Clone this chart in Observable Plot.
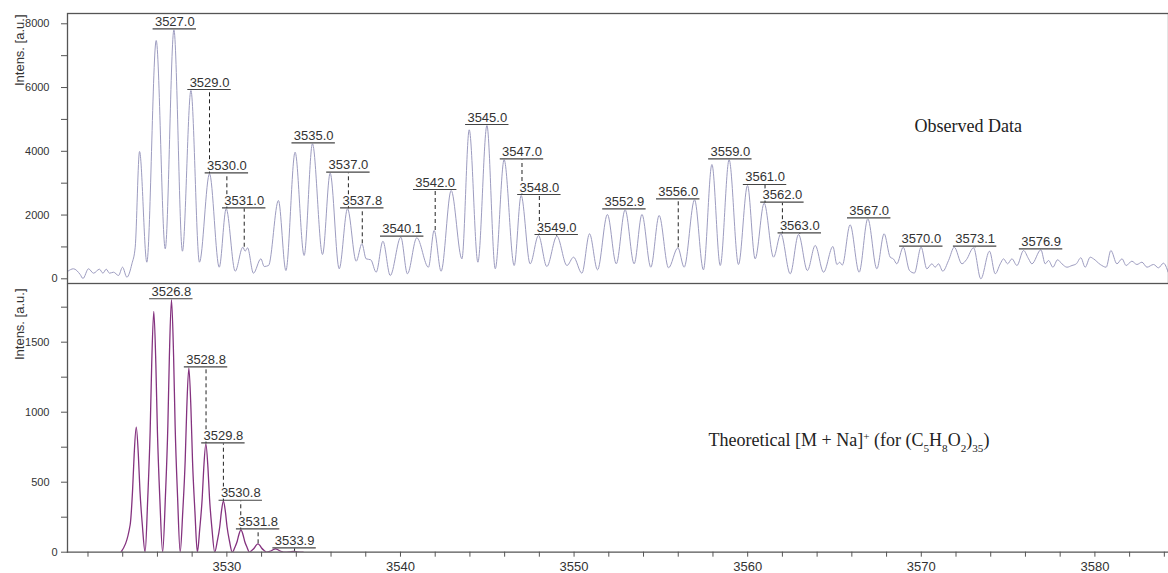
<!DOCTYPE html>
<html>
<head>
<meta charset="utf-8">
<script src="https://cdn.jsdelivr.net/npm/d3@7"></script>
<script src="https://cdn.jsdelivr.net/npm/@observablehq/plot@0.6"></script>
<style>
  body { margin: 0; background: #fff; }
  #chart { width: 1168px; height: 573px; overflow: hidden; }
  #chart svg { display: block; }
</style>
</head>
<body>
<div id="chart"></div>
<script>
// Observed MALDI profile: [m/z, intensity] at peak tops, valleys and shoulders
const observed = [
  [3520.85,240],[3521.16,314],[3521.55,135],[3521.71,10],[3522.03,314],[3522.32,176],[3522.66,301],
  [3522.86,176],[3523.05,301],[3523.24,176],[3523.47,207],[3523.76,104],[3523.99,364],[3524.24,50],
  [3524.53,470],[3524.72,991],[3524.97,3993],[3525.39,521],[3525.93,7475],[3526.45,941],[3526.95,7811],
  [3527.44,866],[3527.93,5907],[3528.42,521],[3529.00,3294],[3529.56,364],[3529.96,2196],[3530.48,238],
  [3530.92,991],[3531.05,866],[3531.19,972],[3531.53,176],[3531.96,627],[3532.15,386],[3532.40,417],
  [3532.97,2456],[3533.40,260],[3533.93,3972],[3534.45,731],[3534.93,4235],[3535.51,762],[3535.95,3313],
  [3536.47,314],[3536.95,2196],[3537.45,552],[3537.78,1098],[3538.02,627],[3538.29,596],[3538.60,207],
  [3538.99,1179],[3539.41,104],[3540.02,1305],[3540.40,157],[3540.94,1286],[3541.61,364],[3541.94,1515],
  [3542.34,238],[3542.92,2770],[3543.54,627],[3543.96,4674],[3544.46,521],[3544.98,4809],[3545.46,314],
  [3545.97,3733],[3546.55,417],[3546.95,2613],[3547.47,470],[3547.95,1358],[3548.43,386],[3549.01,1336],
  [3549.59,417],[3549.97,678],[3550.45,176],[3550.89,1412],[3551.35,282],[3551.92,2017],[3552.43,470],
  [3552.94,2164],[3553.46,470],[3553.91,2017],[3554.42,364],[3554.90,1986],[3555.44,345],[3555.98,972],
  [3556.34,364],[3556.94,2478],[3557.45,282],[3557.94,3586],[3558.42,417],[3558.93,3733],[3559.47,449],
  [3559.99,2927],[3560.43,627],[3560.95,2372],[3561.49,678],[3561.91,1412],[3562.45,157],[3562.93,1390],
  [3563.44,260],[3563.89,1045],[3564.37,207],[3564.91,1013],[3565.14,449],[3565.30,520],[3565.45,430],
  [3565.90,1694],[3566.42,207],[3566.92,1882],[3567.44,314],[3567.86,1412],[3568.21,678],[3568.40,620],
  [3568.59,470],[3568.96,991],[3569.32,260],[3569.60,180],[3569.99,991],[3570.32,314],[3570.61,470],
  [3570.80,364],[3570.99,470],[3571.24,238],[3571.57,574],[3571.90,991],[3572.34,470],[3572.60,600],
  [3573.01,972],[3573.43,0],[3573.93,866],[3574.26,157],[3574.55,470],[3574.74,627],[3574.97,470],
  [3575.22,627],[3575.51,417],[3575.89,887],[3576.18,627],[3576.37,470],[3576.89,909],[3577.14,470],
  [3577.33,574],[3577.58,364],[3577.85,596],[3578.10,470],[3578.39,364],[3578.68,417],[3578.93,470],
  [3579.19,659],[3579.44,364],[3579.73,678],[3579.92,627],[3580.31,449],[3580.65,364],[3580.92,887],
  [3581.27,470],[3581.56,627],[3581.80,417],[3582.13,552],[3582.42,449],[3582.71,521],[3583.00,364],
  [3583.38,449],[3583.66,345],[3583.95,490],[3584.22,207]
];

// Theoretical isotope pattern of [M + Na]+ for (C5H8O2)35
const theoretical = [
  [3523.90,0],
  [3524.43,196],[3524.57,447],[3524.66,697],[3524.78,893],[3524.90,697],[3524.99,447],[3525.13,196],
  [3525.29,0],
  [3525.44,378],[3525.58,860],[3525.67,1341],[3525.79,1719],[3525.91,1341],[3526.00,860],[3526.14,378],
  [3526.30,0],
  [3526.46,397],[3526.60,902],[3526.69,1406],[3526.81,1803],[3526.93,1406],[3527.02,902],[3527.16,397],
  [3527.31,0],
  [3527.46,290],[3527.60,659],[3527.69,1027],[3527.81,1317],[3527.93,1027],[3528.02,659],[3528.16,290],
  [3528.30,0],
  [3528.44,170],[3528.58,387],[3528.67,604],[3528.79,774],[3528.91,604],[3529.00,387],[3529.14,170],
  [3529.30,0],
  [3529.45,80],[3529.59,182],[3529.68,284],[3529.80,364],[3529.92,284],[3530.01,182],[3530.15,80],
  [3530.31,0],
  [3530.46,35],[3530.60,80],[3530.69,125],[3530.81,160],[3530.93,125],[3531.02,80],[3531.16,35],
  [3531.30,0],
  [3531.44,13],[3531.58,30],[3531.67,47],[3531.79,60],[3531.91,47],[3532.00,30],[3532.14,13],
  [3532.30,0],
  [3532.45,5],[3532.59,12],[3532.68,19],[3532.80,24],[3532.92,19],[3533.01,12],[3533.15,5],
  [3533.32,0],
  [3533.60,2],[3533.84,6],[3534.08,2],
  [3534.40,0]
];

// Picked peak masses shown as labels
const observedPeaks = [3527.0, 3529.0, 3530.0, 3531.0, 3535.0, 3537.0, 3537.8, 3540.1, 3542.0,
  3545.0, 3547.0, 3548.0, 3549.0, 3552.9, 3556.0, 3559.0, 3561.0, 3562.0, 3563.0, 3567.0,
  3570.0, 3573.1, 3576.9];
const theoreticalPeaks = [3526.8, 3528.8, 3529.8, 3530.8, 3531.8, 3533.9];

// Axis ticks
const xTickLabels = [3530, 3540, 3550, 3560, 3570, 3580];
const xMinorTicks = d3.range(3522, 3585, 2);
const yTopLabels = [2000, 4000, 6000, 8000];
const yTopMinor = d3.range(0, 8001, 1000);
const yBottomLabels = [500, 1000, 1500];
const yBottomMinor = d3.range(0, 1751, 250);

const yTitle = "Intens. [a.u.]";
const observedTitle = "Observed Data";
const theoreticalTitle = [["Theoretical [M + Na]", 0], ["+", 1], [" (for (C", 0], ["5", -1], ["H", 0],
  ["8", -1], ["O", 0], ["2", -1], [")", 0], ["35", -1], [")", 0]];

const xDomain = [3520.82, 3584.24];
const ink = "#333";
const axisInk = "#555";
const sans = "'Liberation Sans', Arial, sans-serif";
const serif = "'Liberation Serif', 'Times New Roman', serif";
const plain = (d) => String(d);

// A label sits on a bar just above the highest part of the trace under it;
// a dashed leader drops from the bar to the labelled peak.
function placeLabels(points, masses) {
  return masses.map((m) => {
    const near = points.filter((d) => Math.abs(d[0] - m) <= 1.25);
    const apex = points.filter((d) => Math.abs(d[0] - m) <= 0.3);
    return {m, text: m.toFixed(1), level: d3.max(near, (d) => d[1]), peak: d3.max(apex, (d) => d[1])};
  });
}

function labelMarks(labels) {
  return [
    Plot.ruleX(labels.filter((d) => d.level > d.peak), {
      x: "m", y1: "peak", y2: "level", stroke: "#222", strokeWidth: 1, strokeDasharray: "4,3"
    }),
    Plot.ruleY(labels, {
      y: "level", x1: (d) => d.m - 1.25, x2: (d) => d.m + 1.25, dy: -1, stroke: "#444", strokeWidth: 1.2
    }),
    Plot.text(labels, {
      x: "m", y: "level", text: "text", dy: -4, lineAnchor: "bottom", fontSize: 13, fill: ink,
      stroke: "white", strokeWidth: 3, paintOrder: "stroke", fontFamily: sans
    })
  ];
}

function yAxisMarks(minor, labelled) {
  return [
    Plot.axisY({ticks: minor, tickSize: 6, tickFormat: () => "", stroke: axisInk, label: null}),
    Plot.axisY({ticks: labelled, tickSize: 0, tickPadding: 18, fontSize: 11, fill: ink, tickFormat: plain, label: null}),
    Plot.axisY({ticks: [0], tickSize: 0, tickPadding: 10, fontSize: 11, fill: ink, tickFormat: plain, label: null})
  ];
}

const obsLabels = placeLabels(observed, observedPeaks);
const theoLabels = placeLabels(theoretical, theoreticalPeaks);

const topPanel = Plot.plot({
  width: 1168, height: 284,
  marginLeft: 67, marginRight: 0, marginTop: 13, marginBottom: 1,
  style: {fontFamily: sans, background: "white", overflow: "visible"},
  x: {domain: xDomain, axis: null},
  y: {domain: [-147.5, 8323], axis: null},
  marks: [
    Plot.line(observed, {x: (d) => d[0], y: (d) => d[1], curve: "monotone-x", stroke: "#9d9cc0", strokeWidth: 1, clip: true}),
    ...labelMarks(obsLabels),
    ...yAxisMarks(yTopMinor, yTopLabels),
    Plot.text([yTitle], {frameAnchor: "top-left", rotate: -90, textAnchor: "end", lineAnchor: "middle",
      dx: -48, dy: 1, fontSize: 13, fill: ink}),
    Plot.text([observedTitle], {x: [3572.7], y: [4780], fontFamily: serif, fontSize: 18, fill: "#222"}),
    Plot.frame({stroke: axisInk, strokeWidth: 1.3})
  ]
});

const caption = theoreticalTitle.map((p) => p[0]).join("");

const bottomPanel = Plot.plot({
  width: 1168, height: 289,
  marginLeft: 67, marginRight: 0, marginTop: 0, marginBottom: 21.3,
  style: {fontFamily: sans, background: "white", overflow: "visible"},
  x: {domain: xDomain, axis: null},
  y: {domain: [0, 1912], axis: null},
  marks: [
    Plot.line(theoretical, {x: (d) => d[0], y: (d) => d[1], curve: "monotone-x", stroke: "#84327f", strokeWidth: 1.3, clip: true}),
    ...labelMarks(theoLabels),
    ...yAxisMarks(yBottomMinor, yBottomLabels),
    Plot.axisX({ticks: xMinorTicks, tickSize: 5, tickFormat: () => "", stroke: axisInk, label: null}),
    Plot.axisX({ticks: xTickLabels, tickSize: 0, tickPadding: 10, fontSize: 13, fill: ink, tickFormat: plain, label: null}),
    Plot.text([yTitle], {frameAnchor: "top-left", rotate: -90, textAnchor: "end", lineAnchor: "middle",
      dx: -48, dy: 4, fontSize: 13, fill: ink}),
    Plot.text([caption], {x: [3557.75], y: [800], textAnchor: "start", fontFamily: serif, fontSize: 18, fill: "#222"}),
    Plot.frame({anchor: "left", stroke: axisInk, strokeWidth: 1.3}),
    Plot.frame({anchor: "bottom", stroke: axisInk, strokeWidth: 1.3})
  ]
});

// Set the sub- and superscripts of the chemical formula
d3.select(bottomPanel).selectAll("text")
  .filter(function () { return this.textContent === caption; })
  .each(function () {
    const t = d3.select(this);
    t.text(null);
    for (const [s, k] of theoreticalTitle) {
      const span = t.append("tspan").text(s);
      if (k !== 0) span.attr("baseline-shift", k > 0 ? "super" : "sub").attr("font-size", "62%");
    }
  });

document.getElementById("chart").append(topPanel, bottomPanel);
</script>
</body>
</html>
